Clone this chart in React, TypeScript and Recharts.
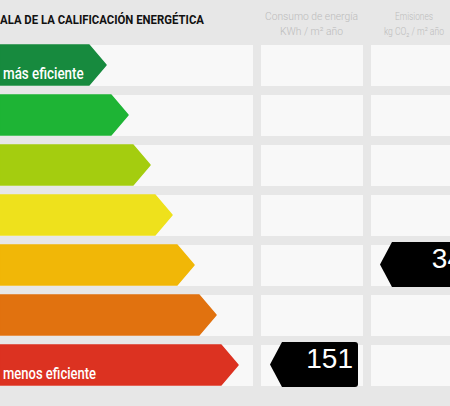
import React from 'react'
import { ComposedChart, Bar, XAxis, YAxis, Cell } from 'recharts'

// rating scale, A (best) to G (worst)
const ratings = ['A', 'B', 'C', 'D', 'E', 'F', 'G']
const arrowEnds = [106, 128, 150, 172, 194, 216, 238]
const arrowColors = ['#178a3e', '#1eb435', '#a4cd0f', '#eee11c', '#f1b707', '#e1720f', '#dc3221']
const arrowLabels = ['más eficiente', '', '', '', '', '', 'menos eficiente']
const consumo = [null, null, null, null, null, null, 151]
const emisiones = [null, null, null, null, 34, null, null]

const data = ratings.map((rating, i) => ({
  rating,
  end: arrowEnds[i],
  label: arrowLabels[i],
  consumo: consumo[i],
  emisiones: emisiones[i],
}))

// column boundaries in axis units
const SCALE_COL = [0, 253]
const CONSUMO_COL = [261, 363]
const EMISIONES_COL = [371, 480]

const PAGE_BG = '#e7e7e7'
const CELL_BG = '#f8f8f8'
const FONT = 'Roboto, "Liberation Sans", sans-serif'

function Marker({ px, col, y, height, value }: any) {
  const tip = px(col[0] + 9)
  const left = px(col[0] + 21)
  const right = px(col[0] + 97)
  const top = y - 3
  const bottom = y + height + 2
  const mid = (top + bottom) / 2
  const r = 3
  return (
    <g>
      <path
        d={`M${tip},${mid} L${left},${top} L${right - r},${top} Q${right},${top} ${right},${top + r} L${right},${bottom - r} Q${right},${bottom} ${right - r},${bottom} L${left},${bottom} Z`}
        fill="#000"
      />
      <text
        x={right - 5}
        y={y + 23}
        textAnchor="end"
        fill="#fff"
        fontSize={28}
        fontFamily='"Liberation Sans", Arial, sans-serif'
      >
        {value}
      </text>
    </g>
  )
}

function Arrow(props: any) {
  const { x, y, width, height, fill, payload } = props
  const px = (v: number) => x + (v * width) / payload.end
  const tip = 17
  const body = x + width - tip
  const mid = y + height / 2
  return (
    <g>
      <path
        d={`M${x},${y} L${body},${y} L${x + width},${mid} L${body},${y + height} L${x},${y + height} Z`}
        fill={fill}
        stroke={fill}
        strokeWidth={1.5}
        strokeLinejoin="round"
      />
      {payload.label && (
        <text
          x={x + 3}
          y={y + height - 6.5}
          fill="#fff"
          fontSize={16.5}
          fontWeight={500}
          fontFamily={FONT}
          textLength={payload.label.length * 6.2}
          lengthAdjust="spacingAndGlyphs"
        >
          {payload.label}
        </text>
      )}
      {payload.consumo != null && (
        <Marker px={px} col={CONSUMO_COL} y={y} height={height} value={payload.consumo} />
      )}
      {payload.emisiones != null && (
        <Marker px={px} col={EMISIONES_COL} y={y} height={height} value={payload.emisiones} />
      )}
    </g>
  )
}

function RowCells(props: any) {
  const { x, y, width, height } = props
  const px = (v: number) => x + (v / 450) * width
  return (
    <g>
      {[SCALE_COL, CONSUMO_COL, EMISIONES_COL].map((c, i) => (
        <rect key={i} x={px(c[0])} y={y} width={px(c[1]) - px(c[0])} height={height + 1} fill={CELL_BG} />
      ))}
    </g>
  )
}

function Header() {
  const grey = { fill: '#bcbcbc', fontSize: 11, fontWeight: 300, fontFamily: FONT, lengthAdjust: 'spacingAndGlyphs' as const }
  return (
    <svg width={450} height={42} style={{ position: 'absolute', left: 0, top: 0 }}>
      <text x={0} y={24} fontSize={13.5} fontWeight={700} fontFamily={FONT} fill="#111" textLength={204} lengthAdjust="spacingAndGlyphs">
        ALA DE LA CALIFICACIÓN ENERGÉTICA
      </text>
      <text x={265} y={20} textLength={93} {...grey}>Consumo de energía</text>
      <text x={280} y={35} textLength={63} {...grey}>KWh / m² año</text>
      <text x={395} y={20} textLength={38} {...grey}>Emisiones</text>
      <text x={384} y={35} textLength={60} {...grey}>kg CO₂ / m² año</text>
    </svg>
  )
}

export default function App() {
  return (
    <div style={{ position: 'relative', width: 450, height: 406, overflow: 'hidden', background: PAGE_BG }}>
      <style>{'body{margin:0}'}</style>
      <Header />
      <div style={{ position: 'absolute', left: 0, top: 0 }}>
        <ComposedChart
          width={450}
          height={406}
          data={data}
          layout="vertical"
          margin={{ top: 40, right: 0, bottom: 16, left: 0 }}
        >
          <XAxis type="number" domain={[0, 450]} hide />
          <YAxis type="category" dataKey="rating" hide />
          <Bar
            dataKey="end"
            barSize={40}
            shape={<Arrow />}
            background={<RowCells />}
            isAnimationActive={false}
          >
            {data.map((d, i) => (
              <Cell key={d.rating} fill={arrowColors[i]} />
            ))}
          </Bar>
        </ComposedChart>
      </div>
    </div>
  )
}
